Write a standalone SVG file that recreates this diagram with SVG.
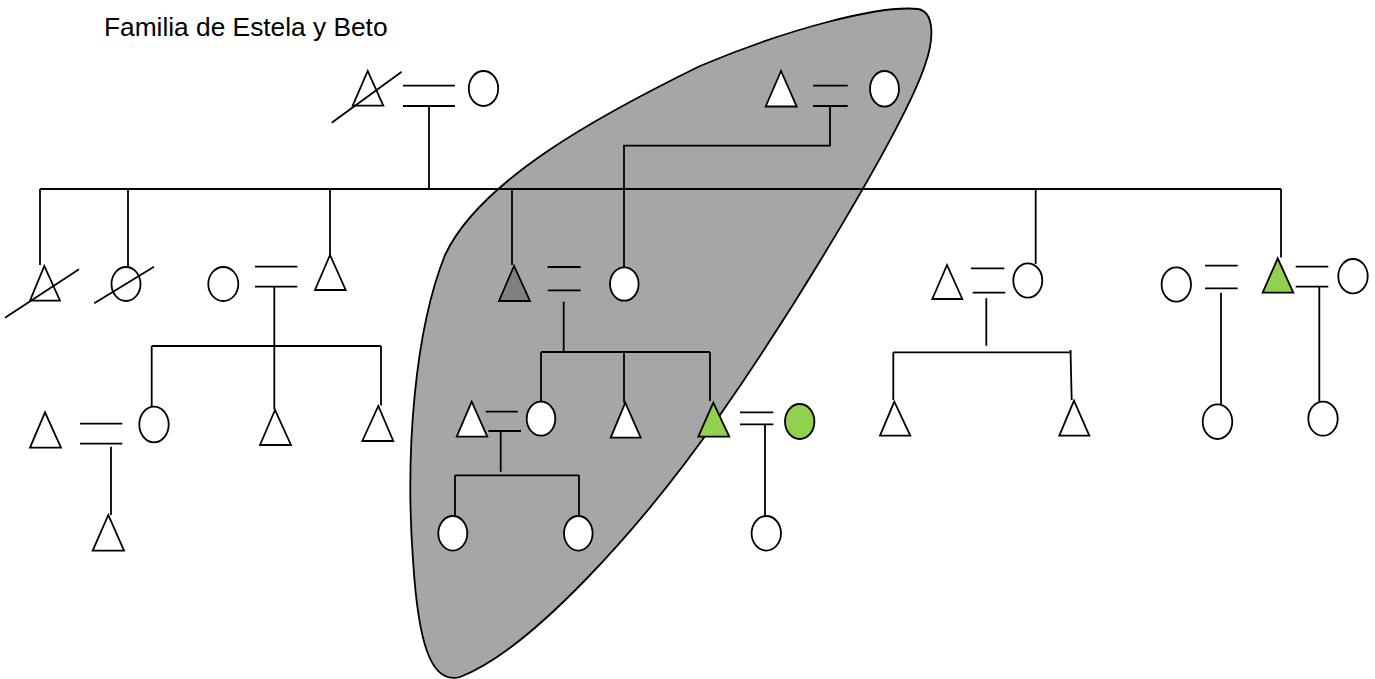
<svg xmlns="http://www.w3.org/2000/svg" width="1375" height="679" viewBox="0 0 1375 679">
<style>
.ln{stroke:#000;stroke-width:1.8;fill:none}
.sh{stroke:#000;stroke-width:1.8;fill:#fff}
.dk{fill:#808080}
.gr{fill:#92d050}
.t{font-family:"Liberation Sans",Arial,sans-serif;font-size:26.3px;fill:#000}
</style>
<rect width="1375" height="679" fill="#fff"/>
<path id="grupo" d="M918,9 C935,12 934,40 925,65 C905,125 800,300 720,415 C640,530 530,650 460,677 C430,685 418,640 413,560 C405,450 415,330 445,255 C480,180 600,115 700,66 C790,28 880,5 918,9 Z" fill="#a6a6a6" stroke="#000" stroke-width="1.8"/>
<text class="t" x="104" y="35.5">Familia de Estela y Beto</text>
<g id="connectors" class="ln">
<path d="M403,85.7H455M403,106H455M429,106V189"/>
<path d="M40,189H1281"/>
<path d="M40,189V265M128,189V267M330,189V255M512,189V265M1035.7,189V264M1281,189V257.5"/>
<path d="M813,85.7H847.7M813,106H847.7M830,106V145.7H624V267"/>
<path d="M255,266.7H297.3M255,286.7H297.3M274.3,286.7V409.5M151.7,346H381M151.7,346V406.7M381,346V405.5"/>
<path d="M547.7,267H580.7M547.7,290.3H580.7M563.7,301.7V352M541,352H710M541,352V401.7M624,352V402.7M710,352V401"/>
<path d="M971,268.3H1004.3M972.7,292.7H1005.3M986.3,298.3V345.7M893.3,352.3H1071.7M893.3,352.3V400M1070.5,350L1071.7,400"/>
<path d="M1205,265.7H1237.7M1205,288.3H1237.7M1221,292.7V404"/>
<path d="M1295.7,266.7H1328.3M1295.7,286.7H1328.3M1319.3,286.7V401.7"/>
<path d="M80,423.7H122.3M80,443.7H122.3M111,446.7V515"/>
<path d="M485.7,411.7H517.7M488.3,431H521M500.7,431V471.7M455,475.3H579M455,475.3V516M579,475.3V516"/>
<path d="M740,412.3H773.3M740,424.3H773.3M765,424.3V516"/>
</g>
<g id="abuelo1"><polygon class="sh" points="367.7,71 352.7,105.7 383.3,105.7"/><line class="ln" x1="331.7" y1="122.7" x2="401.7" y2="71.7"/></g>
<g id="abuela1"><ellipse class="sh" cx="483.5" cy="88.5" rx="14.7" ry="17.5"/></g>
<g id="abuelo2"><polygon class="sh" points="781,71 765.7,106.5 796.7,106.5"/></g>
<g id="abuela2"><ellipse class="sh" cx="884.5" cy="88.8" rx="14.5" ry="17.8"/></g>
<g id="hijo1"><polygon class="sh" points="44.3,266 30,300.7 60,300.7"/><line class="ln" x1="5" y1="317.7" x2="79" y2="269.3"/></g>
<g id="hija2"><ellipse class="sh" cx="126" cy="284" rx="14.5" ry="17"/><line class="ln" x1="94.3" y1="303.3" x2="154" y2="266.7"/></g>
<g id="esposa3"><ellipse class="sh" cx="223.3" cy="284" rx="15" ry="17"/></g>
<g id="hijo3"><polygon class="sh" points="330,255 315,290 345.7,290"/></g>
<g id="hijo4"><polygon class="sh dk" points="514,266 499,301 530,301"/></g>
<g id="esposa4"><ellipse class="sh" cx="624.3" cy="284" rx="14.3" ry="16.7"/></g>
<g id="esposo5"><polygon class="sh" points="947,265 932.3,299 962.3,299"/></g>
<g id="hija5"><ellipse class="sh" cx="1027.8" cy="280.5" rx="14.5" ry="17.2"/></g>
<g id="exesposa6"><ellipse class="sh" cx="1176.3" cy="284.5" rx="14.7" ry="17.2"/></g>
<g id="hijo6"><polygon class="sh gr" points="1277.7,258.3 1262.7,292.7 1293.3,292.7"/></g>
<g id="esposa6"><ellipse class="sh" cx="1353" cy="276.2" rx="14.7" ry="17.2"/></g>
<g id="n16"><polygon class="sh" points="45,412.3 30,447.7 61,447.7"/></g>
<g id="n17"><ellipse class="sh" cx="154" cy="424.5" rx="14.7" ry="17.8"/></g>
<g id="n18"><polygon class="sh" points="275,410 260,445 291,445"/></g>
<g id="n19"><polygon class="sh" points="378.3,406 362.3,441 393.3,441"/></g>
<g id="n20"><polygon class="sh" points="471.7,401.7 456.7,436.7 487.3,436.7"/></g>
<g id="n21"><ellipse class="sh" cx="541" cy="418.7" rx="14.3" ry="17"/></g>
<g id="n22"><polygon class="sh" points="625.3,402.7 610.7,437.7 640.7,437.7"/></g>
<g id="n23"><polygon class="sh gr" points="713.3,402.7 698.3,436.7 729.3,436.7"/></g>
<g id="n24"><ellipse class="sh gr" cx="799.7" cy="421.5" rx="14.7" ry="17.5"/></g>
<g id="n25"><polygon class="sh" points="894.3,401.7 880,435.7 910.3,435.7"/></g>
<g id="n26"><polygon class="sh" points="1074,400.7 1059.3,435.7 1089.3,435.7"/></g>
<g id="n27"><ellipse class="sh" cx="1217.5" cy="421.7" rx="14.8" ry="17.3"/></g>
<g id="n28"><ellipse class="sh" cx="1323" cy="418.7" rx="14.7" ry="17"/></g>
<g id="n29"><polygon class="sh" points="108.3,515 92.7,550.7 124,550.7"/></g>
<g id="n30"><ellipse class="sh" cx="452.8" cy="533.3" rx="14.5" ry="17.3"/></g>
<g id="n31"><ellipse class="sh" cx="578.3" cy="533.3" rx="14.3" ry="17.3"/></g>
<g id="n32"><ellipse class="sh" cx="766.3" cy="533.3" rx="14.7" ry="17.3"/></g>
</svg>
